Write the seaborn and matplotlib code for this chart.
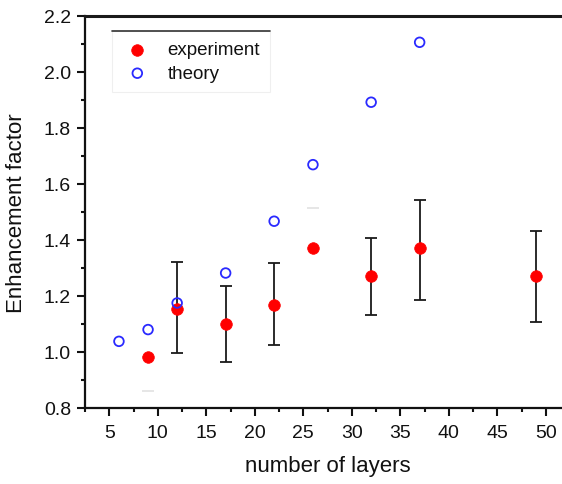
import numpy as np
import pandas as pd
import matplotlib
matplotlib.use("Agg")
import matplotlib.pyplot as plt
from matplotlib.lines import Line2D
import seaborn as sns

# Measured enhancement vs. number of layers
exp_layers = [9, 12, 17, 22, 26, 32, 37, 49]
exp_factor = [0.980, 1.152, 1.099, 1.168, 1.370, 1.272, 1.369, 1.271]
exp_err_low = [0.120, 0.157, 0.135, 0.143, 0.0, 0.141, 0.183, 0.166]
exp_err_high = [0.0, 0.169, 0.135, 0.149, 0.143, 0.134, 0.174, 0.159]
# bars that came out barely visible in the original plot
faint_bar = [True, False, False, False, True, False, False, False]

# Calculated enhancement
theory_layers = [6, 9, 12, 17, 22, 26, 32, 37]
theory_factor = [1.037, 1.079, 1.174, 1.281, 1.466, 1.668, 1.891, 2.105]

x_ticks = [5, 10, 15, 20, 25, 30, 35, 40, 45, 50]
y_ticks = [0.8, 1.0, 1.2, 1.4, 1.6, 1.8, 2.0, 2.2]

sns.set_theme(style="ticks")
plt.rcParams["font.family"] = ["Liberation Sans", "DejaVu Sans"]

fig = plt.figure(figsize=(5.62, 4.85), dpi=100)
ax = fig.add_axes([85 / 562, 76.3 / 485, 485 / 562, 392 / 485])

exp_df = pd.DataFrame({"layers": exp_layers, "factor": exp_factor})
th_df = pd.DataFrame({"layers": theory_layers, "factor": theory_factor})

# error bars
for xi, yi, lo, hi, faint in zip(exp_layers, exp_factor, exp_err_low,
                                 exp_err_high, faint_bar):
    col = "#e4e4e4" if faint else "#1a1a1a"
    ax.errorbar([xi], [yi], yerr=[[lo], [hi]], fmt="none", ecolor=col,
                elinewidth=0 if faint else 1.3, capsize=4, capthick=1.3,
                zorder=2)

sns.scatterplot(data=exp_df, x="layers", y="factor", ax=ax, color="#ff0000",
                marker="o", s=70, edgecolor="#ff0000", linewidth=0.5,
                zorder=3, label="experiment")
sns.scatterplot(data=th_df, x="layers", y="factor", ax=ax,
                marker="o", s=48, facecolor="none", edgecolor="#2a2aff",
                linewidth=1.3, zorder=4, label="theory")

ax.set_xlim(2.5, 52.5)
ax.set_ylim(0.8, 2.2)
ax.set_xticks(x_ticks)
ax.set_yticks(y_ticks)
ax.set_xticks(np.arange(2.5, 52.6, 2.5), minor=True)
ax.set_yticks(np.arange(0.8, 2.21, 0.1), minor=True)
ax.set_xticklabels([str(v) for v in x_ticks])
ax.set_yticklabels([f"{v:.1f}" for v in y_ticks])

ax.tick_params(axis="both", which="major", direction="out", length=6,
               width=1.5, labelsize=14, color="#111111", labelcolor="#111111",
               pad=4)
ax.tick_params(axis="both", which="minor", direction="out", length=3,
               width=1.5, color="#111111")
ax.tick_params(axis="x", which="major", pad=6)

for side in ["left", "bottom"]:
    ax.spines[side].set_linewidth(1.6)
    ax.spines[side].set_color("#111111")
ax.spines["top"].set_visible(True)
ax.spines["top"].set_linewidth(2.2)
ax.spines["top"].set_color("#1a1a1a")
ax.spines["right"].set_visible(False)

ax.set_xlabel("number of layers", fontsize=16, color="#111111", labelpad=10)
ax.set_ylabel("Enhancement factor", fontsize=16, color="#111111", labelpad=12)

leg = ax.legend(loc="upper left", bbox_to_anchor=(112 / 562, 1 - 32 / 485),
                bbox_transform=fig.transFigure, borderaxespad=0,
                fontsize=13.5, frameon=True, fancybox=False,
                handletextpad=0.8, borderpad=0.55, labelspacing=0.35,
                handlelength=1.6)
frame = leg.get_frame()
frame.set_edgecolor("#ececec")
frame.set_linewidth(0.8)
for t in leg.get_texts():
    t.set_color("#111111")

# darker rule along the top edge of the legend box
fig.canvas.draw()
bb = frame.get_window_extent().transformed(fig.transFigure.inverted())
fig.add_artist(Line2D([bb.x0, bb.x1], [bb.y1, bb.y1], color="#333333",
                      linewidth=1.2, transform=fig.transFigure))

fig.savefig("out.png", dpi=100, facecolor="white")
